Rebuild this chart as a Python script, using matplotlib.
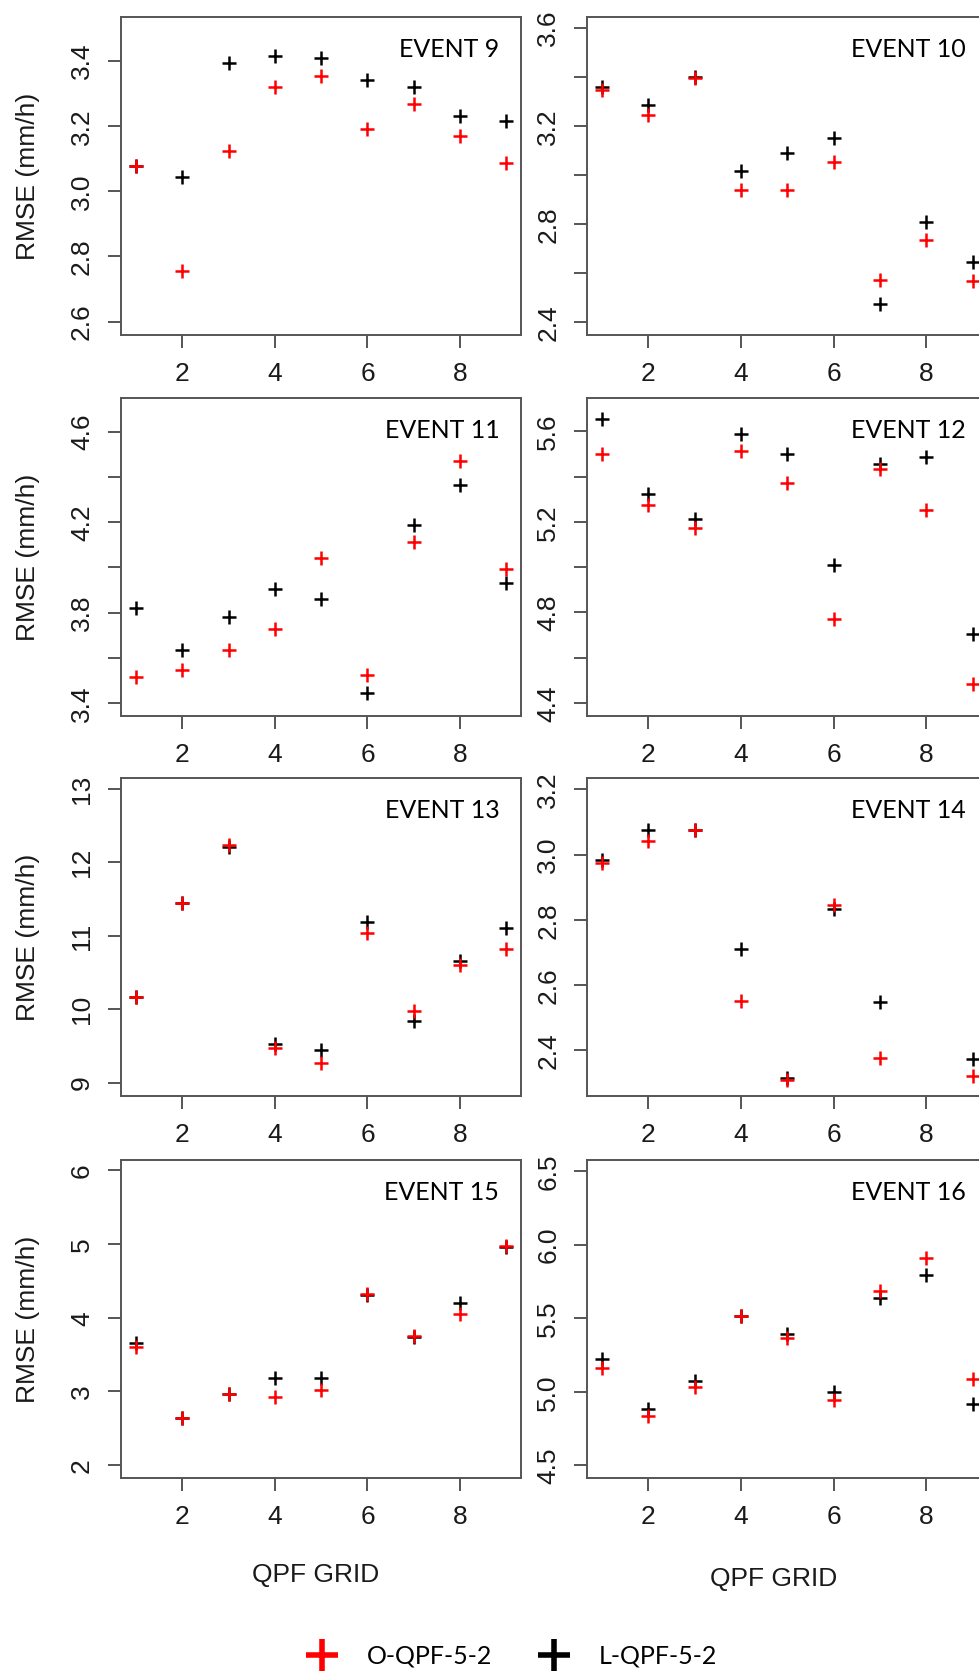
import numpy as np
import matplotlib
matplotlib.use("Agg")
import matplotlib.pyplot as plt
from matplotlib.lines import Line2D

W, H = 979, 1673
AXIS_FONT = "Liberation Sans"
NOTE_FONT = "Lato"

qpf_grid = [1, 2, 3, 4, 5, 6, 7, 8, 9]
events = ["EVENT 9", "EVENT 10", "EVENT 11", "EVENT 12",
          "EVENT 13", "EVENT 14", "EVENT 15", "EVENT 16"]

# RMSE (mm/h), O-QPF-5-2 (red) and L-QPF-5-2 (black)
o_qpf = [
    [3.076, 2.756, 3.124, 3.319, 3.353, 3.190, 3.268, 3.169, 3.085],
    [3.345, 3.243, 3.395, 2.940, 2.940, 3.052, 2.574, 2.734, 2.570],
    [3.514, 3.546, 3.633, 3.729, 4.042, 3.523, 4.110, 4.472, 3.993],
    [5.500, 5.275, 5.173, 5.513, 5.374, 4.772, 5.433, 5.254, 4.484],
    [10.17, 11.45, 12.23, 9.476, 9.272, 11.04, 9.975, 10.60, 10.82],
    [2.975, 3.042, 3.075, 2.553, 2.309, 2.845, 2.376, np.nan, 2.322],
    [3.598, 2.637, 2.962, 2.921, 3.025, 4.321, 3.752, 4.050, 4.971],
    [5.164, 4.833, 5.032, 5.512, 5.365, 4.946, 5.682, 5.909, 5.084],
]
l_qpf = [
    [3.076, 3.042, 3.393, 3.413, 3.409, 3.341, 3.319, 3.229, 3.215],
    [3.359, 3.286, 3.399, 3.017, 3.088, 3.150, 2.475, 2.809, 2.646],
    [3.821, 3.633, 3.779, 3.905, 3.861, 3.444, 4.188, 4.362, 3.931],
    [5.656, 5.324, 5.213, 5.588, 5.501, 5.010, 5.454, 5.486, 4.707],
    [10.17, 11.44, 12.21, 9.520, 9.444, 11.18, 9.839, 10.66, 11.10],
    [2.984, 3.077, 3.076, 2.711, 2.315, 2.835, 2.549, np.nan, 2.375],
    [3.652, 2.637, 2.965, 3.187, 3.187, 4.307, 3.743, 4.194, 4.960],
    [5.220, 4.881, 5.071, 5.512, 5.395, 4.998, 5.637, 5.791, 4.919],
]

y_limits = [(2.56, 3.535), (2.35, 3.645), (3.344, 4.75), (4.344, 5.749),
            (8.82, 13.15), (2.261, 3.236), (1.824, 6.144), (4.414, 6.577)]
y_ticks = [
    [2.6, 2.8, 3.0, 3.2, 3.4],
    [2.4, 2.6, 2.8, 3.0, 3.2, 3.4, 3.6],
    [3.4, 3.6, 3.8, 4.0, 4.2, 4.4, 4.6],
    [4.4, 4.6, 4.8, 5.0, 5.2, 5.4, 5.6],
    [9, 10, 11, 12, 13],
    [2.4, 2.6, 2.8, 3.0, 3.2],
    [2, 3, 4, 5, 6],
    [4.5, 5.0, 5.5, 6.0, 6.5],
]
y_ticklabels = [
    ["2.6", "2.8", "3.0", "3.2", "3.4"],
    ["2.4", "", "2.8", "", "3.2", "", "3.6"],
    ["3.4", "", "3.8", "", "4.2", "", "4.6"],
    ["4.4", "", "4.8", "", "5.2", "", "5.6"],
    ["9", "10", "11", "12", "13"],
    ["2.4", "2.6", "2.8", "3.0", "3.2"],
    ["2", "3", "4", "5", "6"],
    ["4.5", "5.0", "5.5", "6.0", "6.5"],
]
x_ticks = [2, 4, 6, 8]

# panel boxes in pixels (left, top); all 400 x 318
col_left = [121, 587]
row_top = [17, 398, 778, 1160]
AX_W, AX_H = 400, 318
SPINE = "#555555"

fig = plt.figure(figsize=((W + 0.5) / 100, (H + 0.5) / 100), dpi=100)


def add_px_axes(left, top, width, height):
    return fig.add_axes([left / W, 1 - (top + height) / H, width / W, height / H])


for i, name in enumerate(events):
    row, col = divmod(i, 2)
    ax = add_px_axes(col_left[col], row_top[row], AX_W, AX_H)
    ax.plot(qpf_grid, l_qpf[i], linestyle="none", marker="+", color="black",
            markersize=9.5, markeredgewidth=1.8)
    ax.plot(qpf_grid, o_qpf[i], linestyle="none", marker="+", color="#ff0000",
            markersize=9.5, markeredgewidth=1.8)
    ax.set_xlim(0.68, 9.32)
    ax.set_ylim(*y_limits[i])
    ax.set_xticks(x_ticks)
    ax.set_xticklabels([str(t) for t in x_ticks], family=AXIS_FONT, fontsize=19,
                       color="#1a1a1a")
    ax.set_yticks(y_ticks[i])
    ax.set_yticklabels(y_ticklabels[i], family=AXIS_FONT, fontsize=19,
                       rotation=90, va="center", color="#1a1a1a")
    ax.tick_params(length=9.4, width=1.4, color=SPINE, pad=10)
    for sp in ax.spines.values():
        sp.set_color(SPINE)
        sp.set_linewidth(1.4)

    # event label, right-aligned inside the top right of each panel
    x_txt = 499 if col == 0 else 965
    fig.text(x_txt / W, 1 - (row_top[row] + 40) / H, name, family=NOTE_FONT,
             fontsize=18, ha="right", va="baseline", color="black")

    if col == 0:
        fig.text(28 / W, 1 - (row_top[row] + AX_H / 2) / H, "RMSE (mm/h)",
                 family=AXIS_FONT, fontsize=19, rotation=90,
                 ha="center", va="center", color="#1a1a1a")

fig.text(315 / W, 1 - 1575 / H, "QPF GRID", family=AXIS_FONT, fontsize=19,
         ha="center", va="center", color="#1a1a1a")
fig.text(773 / W, 1 - 1579 / H, "QPF GRID", family=AXIS_FONT, fontsize=19,
         ha="center", va="center", color="#1a1a1a")

handles = [
    Line2D([], [], linestyle="none", marker="+", color="#ff0000",
           markersize=23, markeredgewidth=4),
    Line2D([], [], linestyle="none", marker="+", color="black",
           markersize=23, markeredgewidth=4),
]
fig.legend(handles, ["O-QPF-5-2", "L-QPF-5-2"], loc="center",
           bbox_to_anchor=(511 / W, 1 - 1656 / H), ncol=2, frameon=False,
           prop={"family": NOTE_FONT, "size": 18}, handlelength=1.3,
           handletextpad=1.15, columnspacing=1.8, borderpad=0)

fig.savefig("out.png", dpi=100)
